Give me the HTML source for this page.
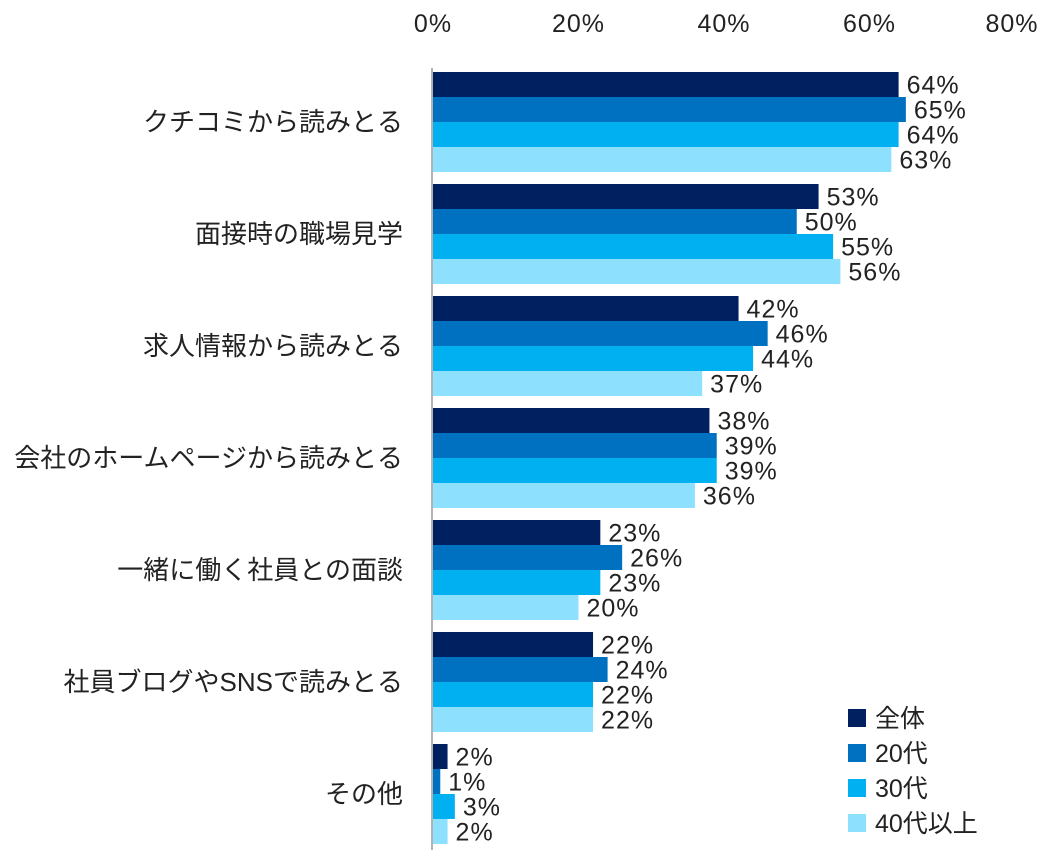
<!DOCTYPE html>
<html><head><meta charset="utf-8"><style>
html,body{margin:0;padding:0;background:#fff;}
svg{display:block;font-family:"Liberation Sans","Noto Sans CJK JP",sans-serif;}
</style></head><body>
<svg id="chart" width="1058" height="863"></svg>
<script>
const categories=["クチコミから読みとる","面接時の職場見学","求人情報から読みとる","会社のホームページから読みとる","一緒に働く社員との面談","社員ブログやSNSで読みとる","その他"];
const seriesNames=["全体","20代","30代","40代以上"];
const allAges=[64,53,42,38,23,22,2];
const age20=[65,50,46,39,26,24,1];
const age30=[64,55,44,39,23,22,3];
const age40=[63,56,37,36,20,22,2];
const ticks=[0,20,40,60,80];
const series=[allAges,age20,age30,age40];
const colors=["#002060","#0070C0","#00B0F0","#8EE0FF"];
const NS="http://www.w3.org/2000/svg";
const svg=document.getElementById('chart');
const x0=433,pxPer=7.275,top0=72,groupH=112,barH=25;
const xs=v=>x0+v*pxPer;
function mk(t,a,txt){const e=document.createElementNS(NS,t);for(const k in a)e.setAttribute(k,a[k]);if(txt!==undefined)e.textContent=txt;svg.appendChild(e);return e;}
ticks.forEach((t,i)=>{const e=mk('text',{x:Math.min(xs(t),1012),y:32,'text-anchor':'middle','font-size':25,'letter-spacing':1,fill:'#222'},t+'%');

});
categories.forEach((c,gi)=>{
 const gy=top0+gi*groupH;
 const l=mk('text',{x:403,y:gy+50+9,'text-anchor':'end','font-size':26,fill:'#222'},c);
 
 
 series.forEach((s,si)=>{
  const y=gy+si*barH;
  const r=mk('rect',{x:x0,y:y,width:Math.max(0,xs(s[gi])-x0),height:barH,fill:colors[si]});
  
  
  const v=mk('text',{x:xs(s[gi])+8,y:y+barH/2+9,'font-size':25,'letter-spacing':1,fill:'#222'},s[gi]+'%');
  
  
 });
});
const ax=mk('line',{x1:432,y1:68,x2:432,y2:850,stroke:'#999','stroke-width':1.5});


seriesNames.forEach((n,i)=>{
 const cy=718+i*35;
 const r=mk('rect',{x:848,y:cy-9,width:18,height:18,fill:colors[i]});
 
 
 const t=mk('text',{x:875,y:cy+9,'font-size':25,fill:'#222'},n);
 
 
});
</script>
</body></html>
